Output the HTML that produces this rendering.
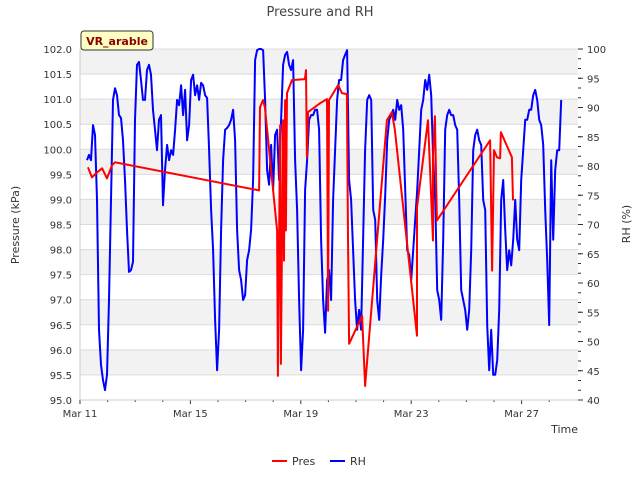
<!DOCTYPE html>
<html><head><meta charset="utf-8"><style>
body{margin:0;background:#fff;font-family:"Liberation Sans","DejaVu Sans",sans-serif;}
</style></head><body>
<svg id="chart" width="640" height="480" xmlns="http://www.w3.org/2000/svg" font-family="DejaVu Sans, Liberation Sans, sans-serif">
<text x="320" y="16" text-anchor="middle" font-size="13" fill="#444">Pressure and RH</text>
<g id="bands"></g>
<g id="grid"></g>
<g id="series"></g>
<g id="axes"></g>
<text transform="translate(19,225) rotate(-90)" text-anchor="middle" font-size="11" fill="#333">Pressure (kPa)</text>
<text transform="translate(630,224) rotate(-90)" text-anchor="middle" font-size="11" fill="#333">RH (%)</text>
<text x="578" y="433" text-anchor="end" font-size="11" fill="#333">Time</text>
<g>
<rect x="81" y="31" width="72" height="19" rx="3" fill="#ffffc4" stroke="#333" stroke-width="1"/>
<text x="117" y="45" text-anchor="middle" font-size="11" font-weight="bold" fill="#8b0000">VR_arable</text>
</g>
<g>
<g><line x1="272" y1="461" x2="287" y2="461" stroke="red" stroke-width="2"/><text x="292" y="465" font-size="11" fill="#333">Pres</text></g>
<g><line x1="330" y1="461" x2="345" y2="461" stroke="blue" stroke-width="2"/><text x="350" y="465" font-size="11" fill="#333">RH</text></g>
</g>
</svg>
<script>
const xTickLabels=["Mar 11","Mar 15","Mar 19","Mar 23","Mar 27"];
const xTickDays=[0,4,8,12,16];
const presTicks=[95,95.5,96,96.5,97,97.5,98,98.5,99,99.5,100,100.5,101,101.5,102];
const rhTicks=[40,45,50,55,60,65,70,75,80,85,90,95,100];
const rhStartDay=0.254;
const rhStepDay=0.0725;
const rhValues=[81.0,81.9,81.0,87.0,85.3,74.2,52.0,46.0,43.4,41.7,44.3,57.1,74.2,91.3,93.3,92.1,88.7,88.2,84.4,77.6,69.1,61.9,62.2,63.6,87.9,97.3,97.8,94.7,91.3,91.3,96.4,97.3,95.6,89.6,86.2,82.7,87.9,88.7,73.3,79.3,83.6,81.0,82.7,81.9,86.2,91.3,90.4,93.8,88.7,93.0,84.4,87.0,94.7,95.6,92.1,93.8,91.3,94.2,93.8,92.1,91.6,82.7,72.5,65.6,53.7,45.1,52.0,69.1,81.0,86.2,86.5,87.0,87.9,89.6,84.4,69.1,62.2,60.5,57.1,57.9,63.9,65.6,69.1,77.6,98.1,99.8,100,100,99.8,91.3,79.3,76.8,83.6,75.9,85.3,86.2,77.6,87.9,97.3,99.0,99.5,97.3,96.4,98.1,81.0,72.5,57.1,45.1,52.0,75.9,81.0,87.9,88.7,88.7,89.6,89.6,86.2,67.4,57.1,51.5,60.5,62.2,57.1,74.2,82.7,91.3,94.7,94.7,98.1,99.0,99.8,77.6,74.2,65.6,57.1,52.0,55.4,52.0,67.4,82.7,91.3,92.1,91.3,72.5,70.8,57.1,53.7,61.4,67.4,75.0,84.4,87.9,88.7,89.6,87.9,91.3,89.6,90.4,86.2,75.9,65.6,64.8,60.5,65.6,70.8,75.9,82.7,89.6,91.3,94.7,93.0,95.6,92.1,81.0,74.2,58.8,57.1,53.7,67.4,86.2,88.7,89.6,88.7,88.7,87.0,86.2,74.2,58.8,57.1,55.4,52.0,55.4,65.6,82.7,85.3,86.2,84.4,83.6,74.2,72.5,52.8,45.1,52.0,44.3,44.3,46.8,55.4,74.2,77.6,69.1,62.2,65.6,63.0,67.4,74.2,67.4,65.6,77.6,82.7,87.9,87.9,89.6,89.6,92.1,93.0,91.3,87.9,87.0,83.6,72.5,63.9,52.8,81.0,67.4,79.3,82.7,82.7,91.3];
const presDays=[0.29,0.43,0.62,0.80,0.98,1.16,1.27,6.49,6.52,6.63,6.70,7.14,7.17,7.25,7.28,7.36,7.39,7.43,7.46,7.50,7.54,7.68,8.15,8.19,8.22,8.26,8.70,8.95,8.99,9.02,9.35,9.49,9.67,9.71,9.75,10.22,10.33,11.12,11.30,11.41,12.21,12.21,12.61,12.79,12.79,12.86,12.93,14.86,14.93,15.0,15.11,15.22,15.25,15.65,15.69];
const presValues=[99.64,99.44,99.54,99.62,99.42,99.68,99.74,99.18,100.84,100.98,100.84,98.38,95.48,100.48,95.72,100.58,97.78,100.98,98.38,101.12,101.18,101.38,101.40,101.58,99.84,100.74,100.92,101.0,96.78,100.98,101.28,101.12,101.10,98.24,96.12,96.68,95.28,100.58,100.74,100.38,96.28,98.84,100.58,98.18,99.84,100.66,98.58,100.18,97.58,99.98,99.84,99.82,100.34,99.84,98.98];

const L=80,R=578,T=49,B=400;
const xS=d=>L+d*27.6;
const pS=v=>B-(v-95)/7*(B-T);
const rS=v=>B-(v-40)/60*(B-T);
const NS="http://www.w3.org/2000/svg";
function mk(tag,attrs,parent){const e=document.createElementNS(NS,tag);for(const k in attrs)e.setAttribute(k,attrs[k]);parent.appendChild(e);return e;}
const bands=document.getElementById('bands'),grid=document.getElementById('grid'),axes=document.getElementById('axes'),series=document.getElementById('series');
for(let i=0;i<presTicks.length-1;i++){
  if((presTicks.length-2-i)%2===0){
    const r=mk('rect',{x:L,y:pS(presTicks[i+1]),width:R-L,height:pS(presTicks[i])-pS(presTicks[i+1]),fill:'#f2f2f2'},bands);
    
    
  }
}
presTicks.forEach(v=>{
  const y=pS(v);
  const g=mk('line',{x1:L,x2:R,y1:y,y2:y,stroke:'#dcdcdc','stroke-width':1},grid);
  
  
  const t=mk('text',{x:L-8,y:y+4,'text-anchor':'end','font-size':10,fill:'#333'},axes);
  t.textContent=v.toFixed(1);
  
  
});
rhTicks.forEach(v=>{
  const y=rS(v);
  mk('line',{x1:R,x2:R+5,y1:y,y2:y,stroke:'#333'},axes);
  const t=mk('text',{x:R+9,y:y+4,'font-size':10,fill:'#333'},axes);
  t.textContent=v;
  
  
});
for(let v=40;v<100;v+=5/3){const y=rS(v);mk('line',{x1:R,x2:R+3,y1:y,y2:y,stroke:'#333'},axes);}
xTickDays.forEach((d,i)=>{
  const x=xS(d);
  mk('line',{x1:x,x2:x,y1:B,y2:B+4,stroke:'#333'},axes);
  const t=mk('text',{x:x,y:B+17,'text-anchor':'middle','font-size':10,fill:'#333'},axes);
  t.textContent=xTickLabels[i];
  
  
});
for(let d=0;d<18;d++){if(xTickDays.indexOf(d)<0){const x=xS(d);mk('line',{x1:x,x2:x,y1:B,y2:B+2,stroke:'#333'},axes);}}
mk('line',{x1:L,x2:L,y1:T,y2:B,stroke:'#ccc'},axes);
mk('line',{x1:L,x2:R,y1:B,y2:B,stroke:'#ccc'},axes);
let pts=rhValues.map((v,i)=>xS(rhStartDay+i*rhStepDay).toFixed(1)+','+rS(v).toFixed(1)).join(' ');
const rh=mk('polyline',{points:pts,fill:'none',stroke:'blue','stroke-width':2,'stroke-linejoin':'round'},series);


pts=presValues.map((v,i)=>xS(presDays[i]).toFixed(1)+','+pS(v).toFixed(1)).join(' ');
const pr=mk('polyline',{points:pts,fill:'none',stroke:'red','stroke-width':2,'stroke-linejoin':'round'},series);


</script>
</body></html>
